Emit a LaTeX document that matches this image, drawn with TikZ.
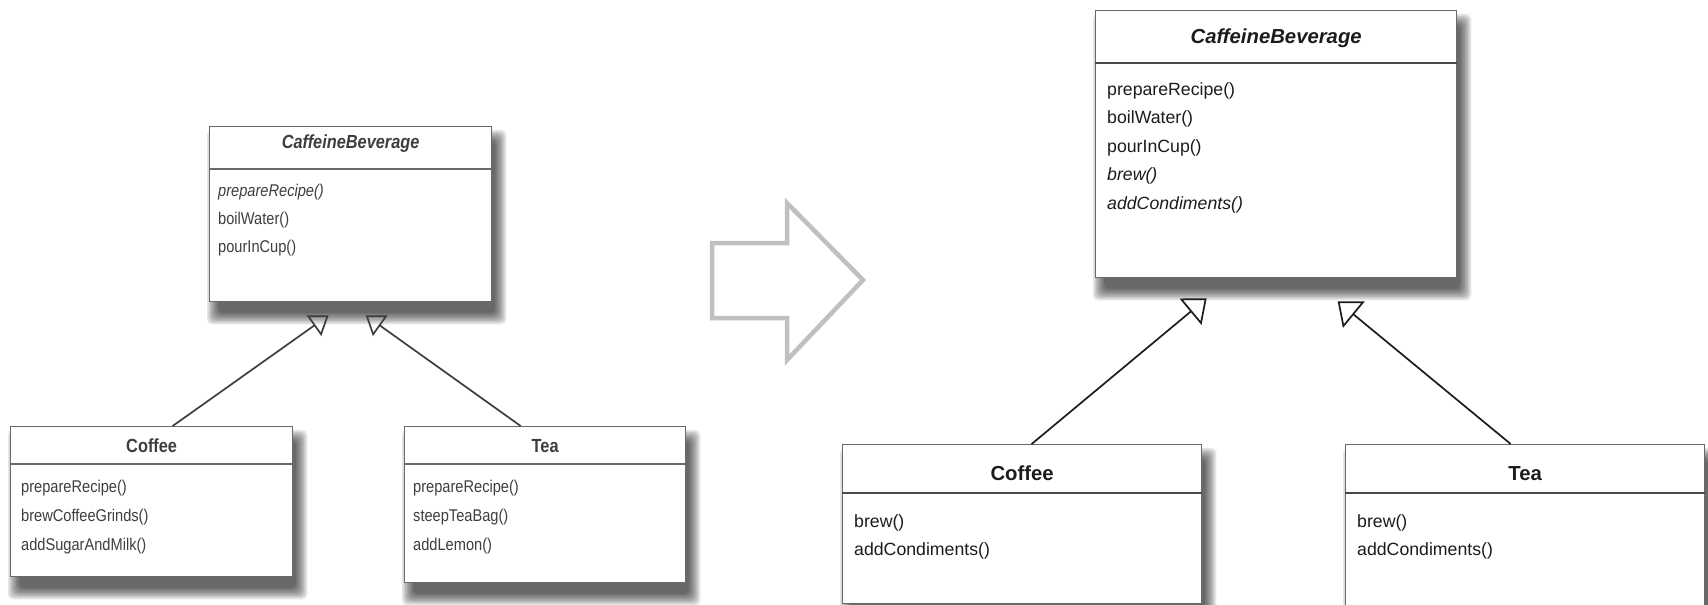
\documentclass[tikz,border=0pt]{standalone}
\usepackage{fontspec}
\setmainfont{Liberation Sans}
\newfontfamily\narrowsans[FakeStretch=0.86]{Liberation Sans}
\definecolor{ink}{RGB}{28,28,28}
\definecolor{inkL}{RGB}{62,62,62}
\definecolor{frame}{RGB}{105,105,105}
\definecolor{hollow}{RGB}{192,192,192}
\usetikzlibrary{arrows.meta, calc, backgrounds}

\tikzset{
  classbox/.style={draw=frame, line width=1.3pt, fill=white, anchor=north west, inner sep=0pt},
  softshadow/.style={fill=black, opacity=0.1, rounded corners=5pt},
  sepline/.style={draw=ink!80, line width=1.8pt},
  titleR/.style={anchor=base, text=ink, font=\fontsize{20.3}{22}\selectfont\bfseries},
  methodR/.style={anchor=base west, inner sep=0pt, text=ink, font=\fontsize{17.7}{20}\selectfont},
  titleL/.style={anchor=base, text=inkL, font=\narrowsans\fontsize{19}{21}\selectfont\bfseries},
  methodL/.style={anchor=base west, inner sep=0pt, text=inkL, font=\narrowsans\fontsize{17}{19}\selectfont},
  inheritR/.style={draw=ink, line width=1.7pt, -{Triangle[open, length=21pt, width=34pt]}},
  inheritL/.style={draw=inkL, line width=1.7pt, -{Triangle[open, length=18pt, width=25pt]}},
  bigarrow/.style={draw=hollow, line width=4.5pt, line join=miter}
}

\begin{document}
\begin{tikzpicture}[x=1pt, y=-1pt]
    \useasboundingbox (0,0) rectangle (1708,605);

    % before: left diagram
    \node[classbox, minimum width=282, minimum height=175] (cbL) at (209,126) {};
    \node[titleL] (cbLname) at ($(cbL.north)+(0,22)$) {\itshape CaffeineBeverage};
    \draw[sepline, draw=frame] ($(cbL.north west)+(0,43)$) -- ($(cbL.north east)+(0,43)$);
    \foreach \m [count=\i] in {\textit{prepareRecipe()}, boilWater(), pourInCup()}
        \node[methodL] (cbLm\i) at ($(cbL.north west)+(9,42+28*\i)$) {\m};

    \node[classbox, minimum width=282, minimum height=150] (coffeeL) at (10,426) {};
    \node[titleL] (coffeeLname) at ($(coffeeL.north)+(0,26.5)$) {Coffee};
    \draw[sepline, draw=frame] ($(coffeeL.north west)+(0,38)$) -- ($(coffeeL.north east)+(0,38)$);
    \foreach \m [count=\i] in {prepareRecipe(), brewCoffeeGrinds(), addSugarAndMilk()}
        \node[methodL] (coffeeLm\i) at ($(coffeeL.north west)+(11,37+29*\i)$) {\m};

    \node[classbox, minimum width=281, minimum height=156] (teaL) at (404,426) {};
    \node[titleL] (teaLname) at ($(teaL.north)+(0,26.5)$) {Tea};
    \draw[sepline, draw=frame] ($(teaL.north west)+(0,38)$) -- ($(teaL.north east)+(0,38)$);
    \foreach \m [count=\i] in {prepareRecipe(), steepTeaBag(), addLemon()}
        \node[methodL] (teaLm\i) at ($(teaL.north west)+(9,37+29*\i)$) {\m};

    \coordinate (cbLtipA) at ($(cbL.south)+(-22,13)$);
    \coordinate (cbLtipB) at ($(cbL.south)+(15,13)$);
    \draw[inheritL] ($(coffeeL.north)+(21,0)$) -- (cbLtipA);
    \draw[inheritL] ($(teaL.north)+(-24.5,0)$) -- (cbLtipB);

    % hollow arrow between the two
    \draw[bigarrow] (712,243) -- (787,243) -- (787,203) -- (863,280)
        -- (787,360) -- (787,318) -- (712,318) -- cycle;

    % after: right diagram
    \node[classbox, minimum width=361, minimum height=267] (cbR) at (1095,10) {};
    \node[titleR] (cbRname) at ($(cbR.north)+(0,33)$) {\itshape CaffeineBeverage};
    \draw[sepline] ($(cbR.north west)+(0,53)$) -- ($(cbR.north east)+(0,53)$);
    \foreach \m [count=\i] in {prepareRecipe(), boilWater(), pourInCup(), \textit{brew()}, \textit{addCondiments()}}
        \node[methodR] (cbRm\i) at ($(cbR.north west)+(12,56.5+28.5*\i)$) {\m};

    \node[classbox, minimum width=359, minimum height=159] (coffeeR) at (842,444) {};
    \node[titleR] (coffeeRname) at ($(coffeeR.north)+(0,36)$) {Coffee};
    \draw[sepline] ($(coffeeR.north west)+(0,49)$) -- ($(coffeeR.north east)+(0,49)$);
    \foreach \m [count=\i] in {brew(), addCondiments()}
        \node[methodR] (coffeeRm\i) at ($(coffeeR.north west)+(12,55+28*\i)$) {\m};

    \node[classbox, minimum width=359, minimum height=175] (teaR) at (1345,444) {};
    \node[titleR] (teaRname) at ($(teaR.north)+(0,36)$) {Tea};
    \draw[sepline] ($(teaR.north west)+(0,49)$) -- ($(teaR.north east)+(0,49)$);
    \foreach \m [count=\i] in {brew(), addCondiments()}
        \node[methodR] (teaRm\i) at ($(teaR.north west)+(12,55+28*\i)$) {\m};

    \coordinate (cbRtipA) at ($(cbR.south)+(-69.5,20)$);
    \coordinate (cbRtipB) at ($(cbR.south)+(61.5,23)$);
    \draw[inheritR] ($(coffeeR.north)+(9.5,0)$) -- (cbRtipA);
    \draw[inheritR] ($(teaR.north)+(-14.5,0)$) -- (cbRtipB);

    \node[text=gray!75, font=\fontsize{26}{26}\selectfont] (pagenum) at (1692,618) {6};

    % white page and soft shadows behind the boxes
    \begin{scope}[on background layer]
        \fill[white] (0,0) rectangle (1708,605);
        \foreach \b in {cbL, coffeeL, teaL, cbR, coffeeR, teaR}
            \foreach \k in {0,...,7}
                \fill[softshadow] ($(\b.north west)+(-2+1.6*\k,4+1.6*\k)$)
                    rectangle ($(\b.south east)+(14-1.6*\k,22-1.6*\k)$);
    \end{scope}
\end{tikzpicture}
\end{document}
